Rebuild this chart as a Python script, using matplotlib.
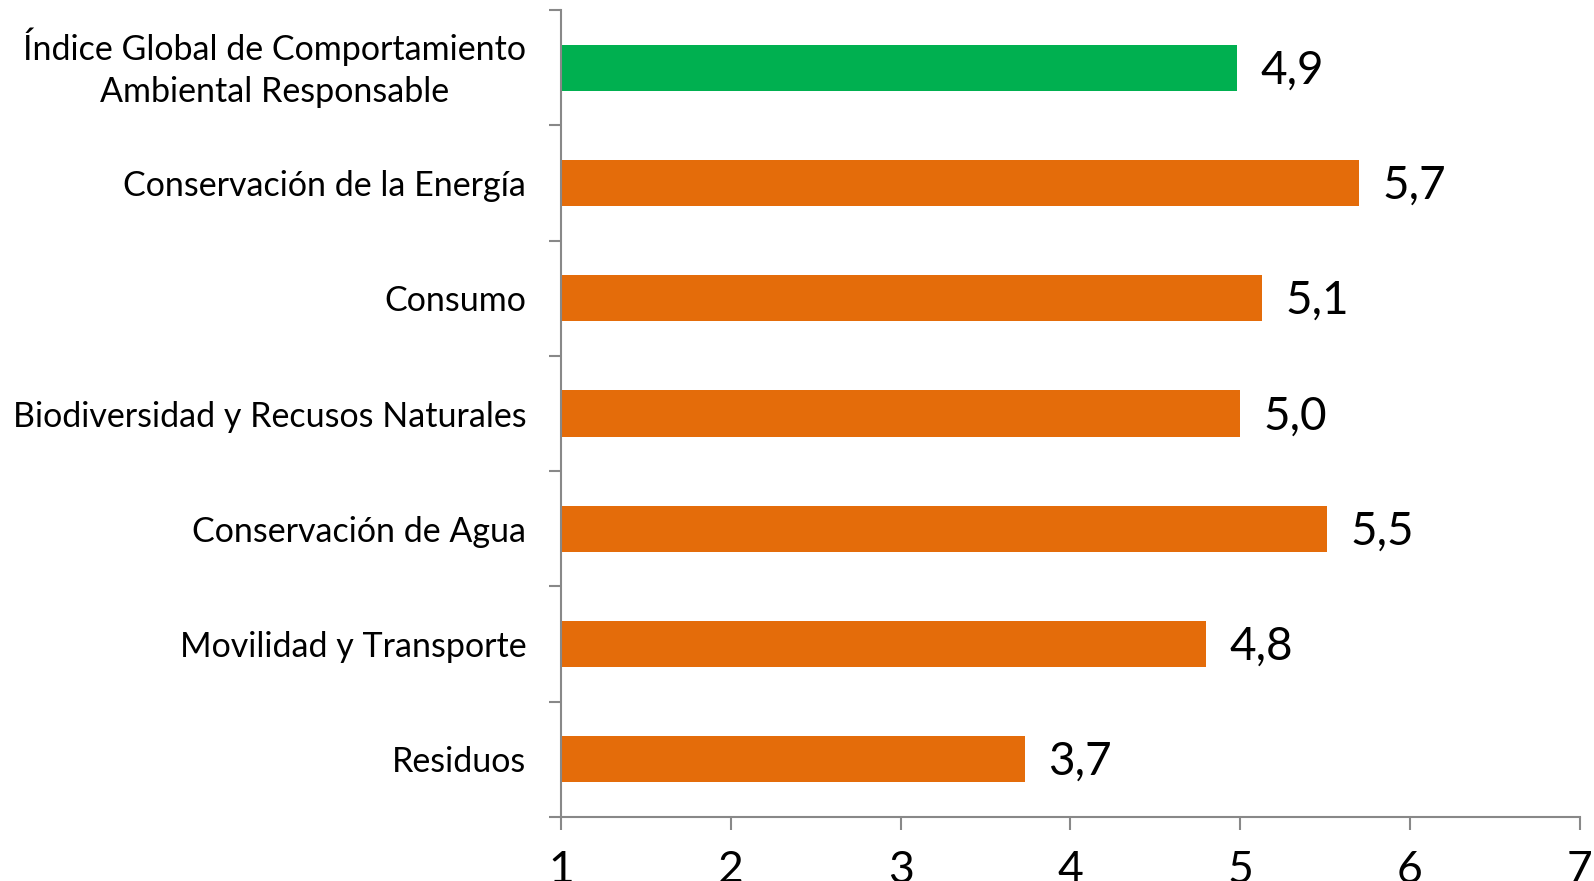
import matplotlib

matplotlib.use("Agg")
import matplotlib.pyplot as plt
import numpy as np

categories = [
    "Índice Global de Comportamiento\nAmbiental Responsable",
    "Conservación de la Energía",
    "Consumo",
    "Biodiversidad y Recusos Naturales",
    "Conservación de Agua",
    "Movilidad y Transporte",
    "Residuos",
]
values = [4.98, 5.70, 5.13, 5.00, 5.51, 4.80, 3.73]
value_labels = ["4,9", "5,7", "5,1", "5,0", "5,5", "4,8", "3,7"]
colors = ["#00B050"] + ["#E46C0A"] * 6
x_ticks = [1, 2, 3, 4, 5, 6, 7]

plt.rcParams["font.family"] = ["Lato", "DejaVu Sans"]

fig = plt.figure(figsize=(15.94, 8.81), dpi=100)
ax = fig.add_axes([0.352, 0.0726, 0.639, 0.916])

y = np.arange(len(categories))
base = 1
ax.barh(y, np.array(values) - base, left=base, height=0.4, color=colors)

for yi, v, lab in zip(y, values, value_labels):
    ax.annotate(lab, xy=(v, yi), xytext=(17, -2), textcoords="offset points",
                ha="left", va="center", fontsize=33, color="black")

ax.set_xlim(1, 7)
ax.set_ylim(len(categories) - 0.5, -0.5)
ax.set_xticks(x_ticks)
ax.set_xticklabels([str(t) for t in x_ticks], fontsize=32)

ax.set_yticks(y)
ax.set_yticklabels(categories, fontsize=24.5)
ax.set_yticks(np.arange(-0.5, len(categories)), minor=True)
ax.tick_params(axis="y", which="major", length=0, pad=25)
ax.tick_params(axis="y", which="minor", length=9, width=1.5, color="#888888")
ax.tick_params(axis="x", length=9, width=1.5, color="#888888", pad=15)

for lbl in ax.get_yticklabels():
    lbl.set_multialignment("center")
    lbl.set_linespacing(1.4)
    if "\n" in lbl.get_text():
        lbl.set_verticalalignment("center")

for side in ("top", "right"):
    ax.spines[side].set_visible(False)
for side in ("left", "bottom"):
    ax.spines[side].set_color("#888888")
    ax.spines[side].set_linewidth(1.5)

fig.savefig("out.png", dpi=100)
